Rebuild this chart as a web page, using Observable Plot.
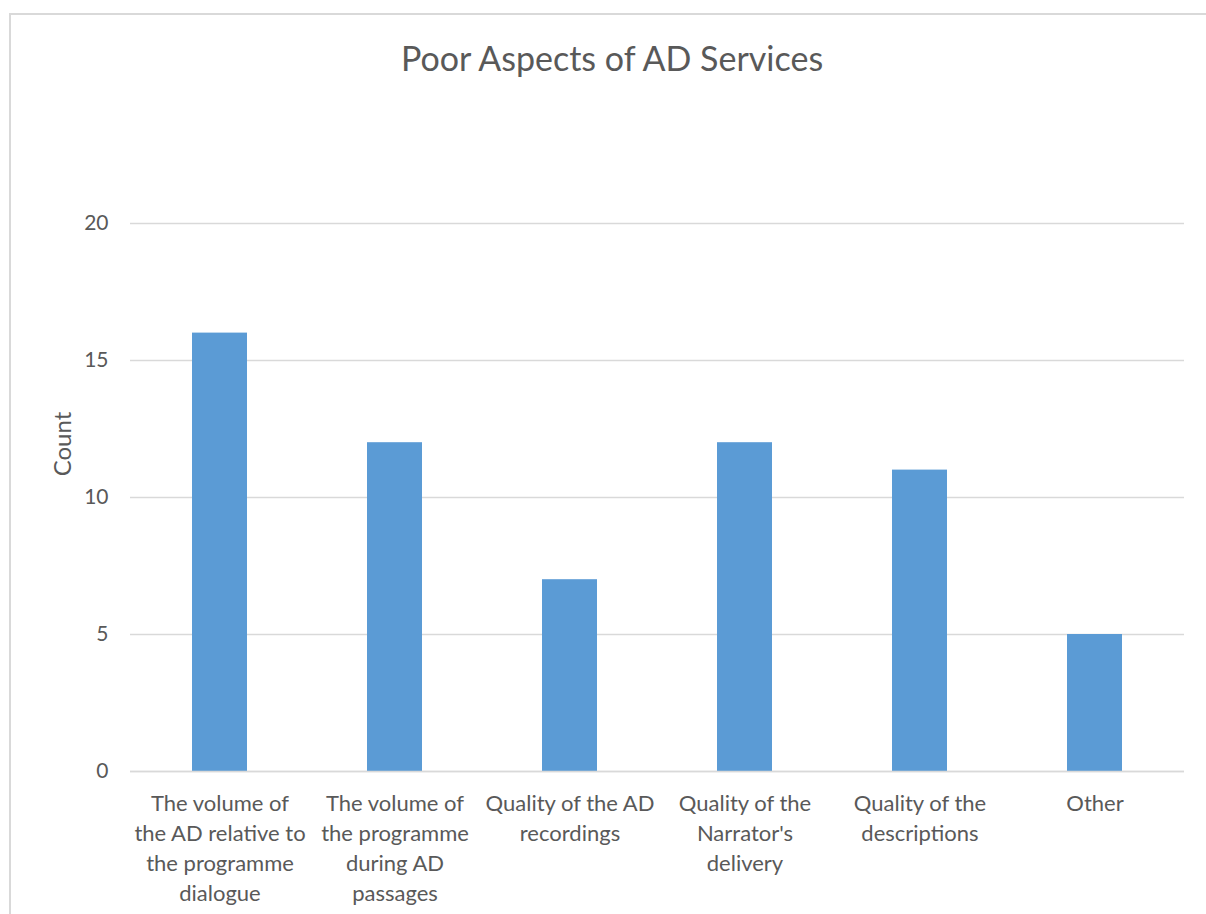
<!DOCTYPE html>
<html>
<head>
<meta charset="utf-8">
<script src="https://cdn.jsdelivr.net/npm/d3@7"></script>
<script src="https://cdn.jsdelivr.net/npm/@observablehq/plot@0.6"></script>
<style>
  html, body { margin: 0; padding: 0; background: #fff; overflow: hidden; width: 1206px; height: 914px; }
  #frame { position: absolute; left: 9px; top: 13px; width: 1400px; height: 1100px; border: 2px solid #d9d9d9; box-sizing: border-box; }
  #title { position: absolute; left: 0; top: 37px; width: 1224px; text-align: center; font-family: Lato, sans-serif; font-size: 34px; color: #595959; }
  #ylabel { position: absolute; left: 62px; top: 444px; transform: translate(-50%, -50%) rotate(-90deg); font-family: Lato, sans-serif; font-size: 24px; color: #595959; white-space: nowrap; line-height: 1; }
  #chart { position: absolute; left: 0; top: 100px; }
  #chart svg { font-family: Lato, sans-serif; color: #595959; }
  #chart svg text { fill: #595959; }
</style>
</head>
<body>
<div id="frame"></div>
<div id="title">Poor Aspects of AD Services</div>
<div id="chart"></div>
<div id="ylabel">Count</div>
<script>
const categories = [
  "The volume of the AD relative to the programme dialogue",
  "The volume of the programme during AD passages",
  "Quality of the AD recordings",
  "Quality of the Narrator's delivery",
  "Quality of the descriptions",
  "Other"
];
const tickLabels = [
  "The volume of\nthe AD relative to\nthe programme\ndialogue",
  "The volume of\nthe programme\nduring AD\npassages",
  "Quality of the AD\nrecordings",
  "Quality of the\nNarrator's\ndelivery",
  "Quality of the\ndescriptions",
  "Other"
];
const counts = [16, 12, 7, 12, 11, 5];
const yTicks = [0, 5, 10, 15, 20];

const data = categories.map((c, i) => ({category: c, count: counts[i]}));
const labelOf = new Map(categories.map((c, i) => [c, tickLabels[i]]));

const chart = Plot.plot({
  width: 1206,
  height: 814,
  marginLeft: 130,
  marginRight: 22,
  marginTop: 123,
  marginBottom: 143,
  x: {domain: categories, paddingInner: 0.687, paddingOuter: 0.3435},
  y: {domain: [0, 20]},
  marks: [
    Plot.gridY(yTicks, {stroke: "#d9d9d9", strokeOpacity: 1, strokeWidth: 1.5}),
    Plot.barY(data, {x: "category", y: "count", fill: "#5b9bd5"}),
    Plot.ruleY([0], {stroke: "#d9d9d9", strokeWidth: 1.5}),
    Plot.axisY(yTicks, {tickSize: 0, tickPadding: 22, fontSize: 21, label: null}),
    Plot.axisX({tickSize: 0, tickPadding: 18, fontSize: 22, lineHeight: 1.37, tickFormat: d => labelOf.get(d), label: null})
  ]
});
document.getElementById("chart").appendChild(chart);
</script>
</body>
</html>
